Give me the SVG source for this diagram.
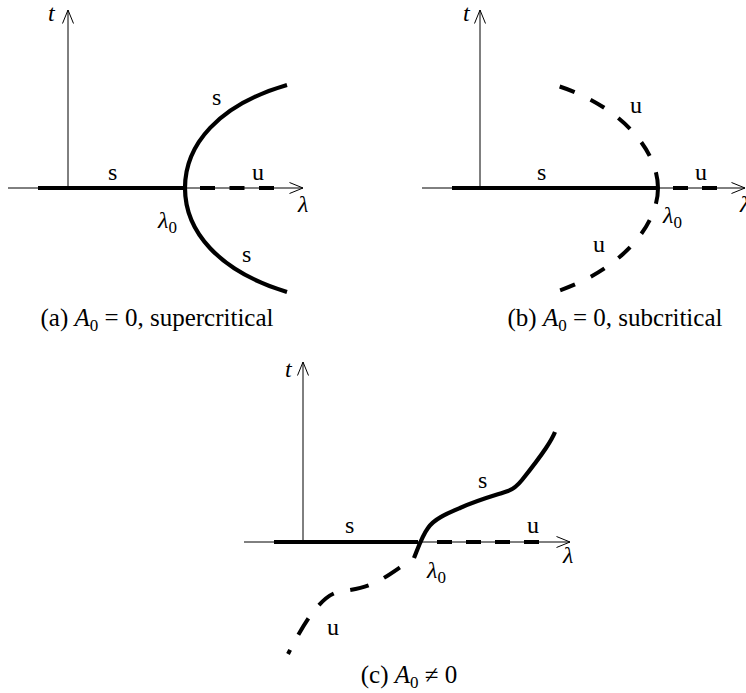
<svg xmlns="http://www.w3.org/2000/svg" width="746" height="693" viewBox="0 0 746 693">
<style>
  .axis { fill: none; stroke: #000; stroke-width: 1; }
  .thick { fill: none; stroke: #000; stroke-width: 4.2; stroke-linecap: butt; }
  .dash { fill: none; stroke: #000; stroke-width: 4; stroke-linecap: butt; }
  text { font-family: "Liberation Serif", "DejaVu Serif", serif; font-size: 24px; fill: #000; }
  .it { font-style: italic; }
  .cap { font-size: 25px; text-anchor: middle; }
</style>
<defs>
  <marker id="arr" markerUnits="userSpaceOnUse" markerWidth="16" markerHeight="14" refX="14" refY="6" orient="auto" overflow="visible">
    <path d="M0.5,0.5 L14,6 L0.5,11.5" fill="none" stroke="#000" stroke-width="1"/>
  </marker>
</defs>
<rect x="0" y="0" width="746" height="693" fill="#fff"/>

<g id="connectors">
  <!-- panel (a) -->
  <path class="axis" d="M8,188 L303,188" marker-end="url(#arr)"/>
  <path class="axis" d="M68,188 L68,10" marker-end="url(#arr)"/>
  <path class="thick" d="M38,188 L185,188"/>
  <path class="dash" d="M200,188 L274,188" stroke-dasharray="15 14.5"/>
  <path class="thick" d="M287,85 C218,105 185,145 185,188 C185,231 218,271 287,292"/>

  <!-- panel (b) -->
  <path class="axis" d="M422,188 L745,188" marker-end="url(#arr)"/>
  <path class="axis" d="M480,188 L480,10" marker-end="url(#arr)"/>
  <path class="thick" d="M452,188 L657,188"/>
  <path class="dash" d="M673,188 L717,188" stroke-dasharray="15 14"/>
  <path class="dash" d="M658,188 C658,150 620,105 555,85" stroke-dasharray="16 17.5"/>
  <path class="dash" d="M658,188 C658,226 620,271 555,292" stroke-dasharray="16 17.5"/>

  <!-- panel (c) -->
  <path class="axis" d="M244,542 L570,542" marker-end="url(#arr)"/>
  <path class="axis" d="M303,542 L303,362" marker-end="url(#arr)"/>
  <path class="thick" d="M274,542 L418,542"/>
  <path class="dash" d="M437,542 L539,542" stroke-dasharray="15 14"/>
  <path class="thick" d="M414,558 C418,548 422,536 428,528 C434,519 446,514 460,508 C480,499 500,494 508,491 C514,489 518,485 522,480 C530,470 540,457 546,448 C550,442 553,437 555,432"/>
  <path class="dash" d="M414,558 C398,568 388,577 372,584 C358,590 345,590 335,593 C325,597 318,606 310,616 C303,626 294,642 288,654" stroke-dasharray="19 17" stroke-dashoffset="19"/>
</g>

<g id="panel-a">
  <text class="it" x="48" y="21">t</text>
  <text x="212" y="105">s</text>
  <text x="108" y="180">s</text>
  <text x="252" y="180">u</text>
  <text class="it" x="298" y="212">λ</text>
  <text x="158" y="228"><tspan class="it">λ</tspan><tspan font-size="17" dy="5">0</tspan></text>
  <text x="242" y="262">s</text>
  <text class="cap" x="157" y="326">(a) <tspan class="it">A</tspan><tspan font-size="17" dy="5">0</tspan><tspan dy="-5"> = 0, supercritical</tspan></text>
</g>

<g id="panel-b">
  <text class="it" x="463" y="21">t</text>
  <text x="630" y="113">u</text>
  <text x="537" y="180">s</text>
  <text x="695" y="180">u</text>
  <text class="it" x="740" y="212">λ</text>
  <text x="663" y="223"><tspan class="it">λ</tspan><tspan font-size="17" dy="5">0</tspan></text>
  <text x="593" y="252">u</text>
  <text class="cap" x="615" y="326">(b) <tspan class="it">A</tspan><tspan font-size="17" dy="5">0</tspan><tspan dy="-5"> = 0, subcritical</tspan></text>
</g>

<g id="panel-c">
  <text class="it" x="285" y="377">t</text>
  <text x="345" y="533">s</text>
  <text x="478" y="488">s</text>
  <text x="527" y="533">u</text>
  <text class="it" x="563" y="563">λ</text>
  <text x="427" y="578"><tspan class="it">λ</tspan><tspan font-size="17" dy="5">0</tspan></text>
  <text x="327" y="635">u</text>
  <text class="cap" x="409" y="683">(c) <tspan class="it">A</tspan><tspan font-size="17" dy="5">0</tspan><tspan dy="-5"> ≠ 0</tspan></text>
</g>
</svg>
